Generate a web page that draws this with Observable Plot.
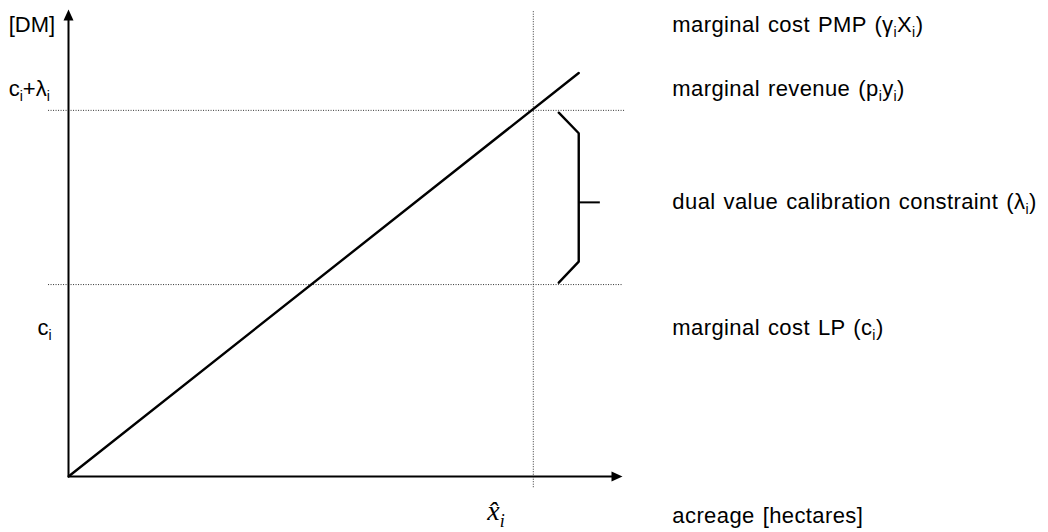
<!DOCTYPE html>
<html><head><meta charset="utf-8">
<script src="https://cdn.jsdelivr.net/npm/d3@7"></script>
<script src="https://cdn.jsdelivr.net/npm/@observablehq/plot@0.6"></script>
<style>body{margin:0;background:#fff} .rl{letter-spacing:0.4px;word-spacing:1.5px}</style>
</head><body><div id="chart"></div>
<script>
// --- data (abstract units) ---
const axisEnd = [10, 10];            // extent of the x and y arrows
const xHat = 8.39;                    // calibrated acreage
const priceLevels = [4.11, 7.84];     // c_i, c_i + lambda_i
const costX = [0, 9.21];              // marginal cost PMP line
const costY = [0, 8.64];
const braceX = [8.85, 9.21, 9.21, 8.85];
const braceY = [7.79, 7.35, 4.60, 4.15];
const braceTipX = [9.21, 9.60];
const braceTipY = 5.87;
const leftLabels = ["[DM]", "c_i+λ_i", "c_i"];
const rightLabels = [
  "marginal cost PMP (γ_iX_i)",
  "marginal revenue (p_iy_i)",
  "dual value calibration constraint (λ_i)",
  "marginal cost LP (c_i)",
  "acreage [hectares]"
];
const xLabel = "x\u0302_i";

const sans = "'Liberation Sans', Arial, Helvetica, sans-serif";
const arrowHead = {
  draw(ctx) { ctx.moveTo(0, 0); ctx.lineTo(-5, 11); ctx.lineTo(5, 11); ctx.closePath(); }
};
const pts = (xs, ys) => xs.map((x, i) => ({x, y: ys[i]}));

const chart = Plot.plot({
  width: 1048, height: 532,
  marginLeft: 68, marginRight: 426, marginTop: 9, marginBottom: 56,
  x: {domain: [0, axisEnd[0]], axis: null},
  y: {domain: [0, axisEnd[1]], axis: null},
  style: {background: "#fff", overflow: "visible"},
  marks: [
    // dotted guide lines
    Plot.ruleY(priceLevels, {x1: -0.36, x2: (d, i) => i ? 10.05 : 10, stroke: "#333", strokeWidth: 1, strokeDasharray: "1,1.5"}),
    Plot.ruleX([xHat], {y1: -0.24, y2: 9.98, stroke: "#333", strokeWidth: 1, strokeDasharray: "1,1.5"}),
    // axes
    Plot.ruleX([0], {y1: 0, y2: axisEnd[1] - 0.15, stroke: "#000", strokeWidth: 2}),
    Plot.ruleY([0], {x1: 0, x2: axisEnd[0] - 0.15, stroke: "#000", strokeWidth: 2}),
    Plot.dot([0], {x: 0, y: axisEnd[1], symbol: arrowHead, fill: "#000", r: 5}),
    Plot.dot([0], {x: axisEnd[0], y: 0, symbol: arrowHead, fill: "#000", r: 5, rotate: 90}),
    // marginal cost line
    Plot.line(pts(costX, costY), {x: "x", y: "y", stroke: "#000", strokeWidth: 2.4}),
    // brace
    Plot.line(pts(braceX, braceY), {x: "x", y: "y", stroke: "#000", strokeWidth: 2.4, strokeLinejoin: "miter", curve: "linear"}),
    Plot.ruleY([braceTipY], {x1: braceTipX[0], x2: braceTipX[1], stroke: "#000", strokeWidth: 2}),
    // labels
    Plot.text(leftLabels, {x: [-1.08, -1.08, -0.56], y: [9.51, 8.14, 3.04], text: d => d,
      textAnchor: "start", lineAnchor: "bottom", fontSize: 22, fontFamily: sans, fill: "#000"}),
    Plot.text(rightLabels, {x: 10.9, y: [9.51, 8.14, 5.72, 3.04, -1.0], text: d => d,
      textAnchor: "start", lineAnchor: "bottom", fontSize: 22, fontFamily: sans, fill: "#000", className: "rl"}),
    Plot.text([xLabel], {x: 7.56, y: -0.94, text: d => d, textAnchor: "start", lineAnchor: "bottom",
      fontSize: 28, fontFamily: "'Liberation Serif', 'Times New Roman', serif", fontStyle: "italic", fill: "#000"})
  ]
});

// turn "_x" into subscripts
const NS = "http://www.w3.org/2000/svg";
chart.querySelectorAll("g[aria-label='text']").forEach(g => {
  const fs = parseFloat(g.getAttribute("font-size")) || 22;
  const sub = Math.round(fs * 0.64), shift = Math.round(fs * 0.24);
  g.querySelectorAll("text").forEach(t => {
    const s = t.textContent;
    if (!s.includes("_")) return;
    t.textContent = "";
    let off = 0;
    s.split(/_(.)/).forEach((p, i) => {
      if (!p) return;
      const ts = document.createElementNS(NS, "tspan");
      ts.textContent = p;
      if (i % 2) { ts.setAttribute("font-size", sub); ts.setAttribute("dy", shift - off); off = shift; }
      else if (off) { ts.setAttribute("dy", -off); off = 0; }
      t.appendChild(ts);
    });
  });
});
document.getElementById("chart").appendChild(chart);
</script>
</body></html>
